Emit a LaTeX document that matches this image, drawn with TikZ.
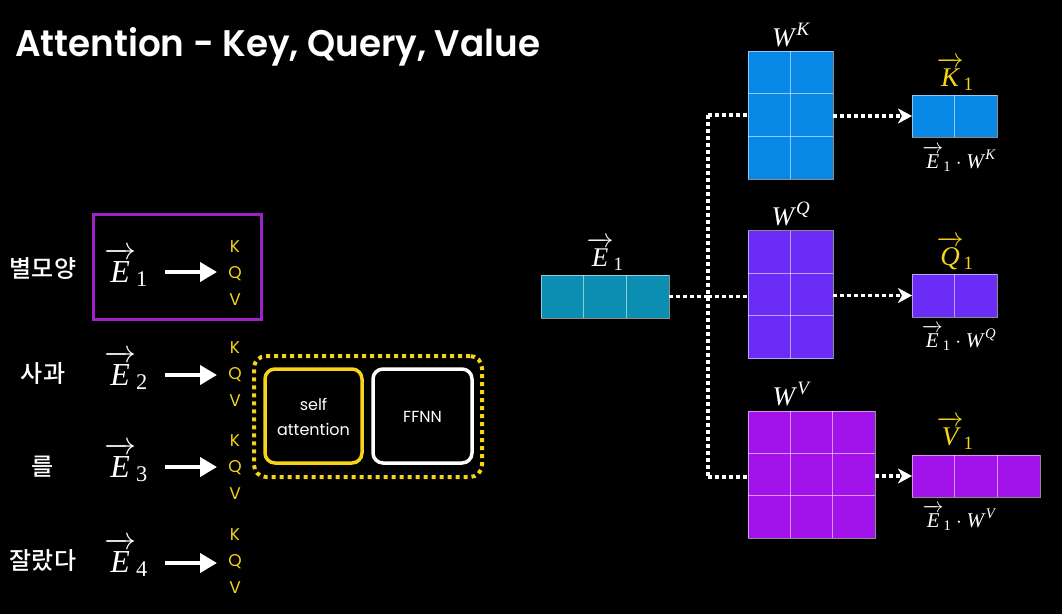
\RequirePackage{fix-cm}
\documentclass[tikz,border=0pt]{standalone}
\usepackage{amsmath}
\usepackage{fontspec}
\setsansfont{Poppins}
\newfontfamily\titlefont{Poppins}[UprightFont={* SemiBold}]
\newfontfamily\krfont{Noto Sans CJK KR}[UprightFont={* Medium}]
\newfontfamily\serifx{Liberation Serif}
\usepackage{graphicx}
\usetikzlibrary{arrows.meta,calc}
\definecolor{yel}{RGB}{245,212,25}
\definecolor{pbox}{RGB}{160,32,204}
\definecolor{ecol}{RGB}{12,142,178}
\definecolor{kcol}{RGB}{8,136,230}
\definecolor{qcol}{RGB}{106,44,246}
\definecolor{vcol}{RGB}{162,18,234}
\newcommand\vect[2]{$\overrightarrow{\rule{0pt}{0.7em}\text{\serifx\itshape #1}}_{\text{\serifx #2}}$}
\newcommand\matl[2]{$\text{\serifx\itshape #1\/}^{\text{\serifx\itshape #2}}$}
\newcommand\prodl[1]{$\overrightarrow{\rule{0pt}{0.7em}\text{\serifx\itshape E}}_{\text{\serifx 1}}\cdot\text{\serifx\itshape W\/}^{\text{\serifx\itshape #1}}$}
\newcommand\cellgrid[3]{%
  \pgfmathtruncatemacro\mycolsm{#2-1}%
  \pgfmathtruncatemacro\myrowsm{#3-1}%
  \ifnum\mycolsm>0
    \foreach \k in {1,...,\mycolsm}{\draw[gridl] ($(#1.north west)!\k/#2!(#1.north east)$) -- ($(#1.south west)!\k/#2!(#1.south east)$);}%
  \fi
  \ifnum\myrowsm>0
    \foreach \k in {1,...,\myrowsm}{\draw[gridl] ($(#1.north west)!\k/#3!(#1.south west)$) -- ($(#1.north east)!\k/#3!(#1.south east)$);}%
  \fi
}
\begin{document}
\begin{tikzpicture}[x=1pt,y=1pt,
  word/.style={text=white,font=\krfont\fontsize{24}{24}\selectfont,inner sep=0},
  evec/.style={text=white,font=\fontsize{32}{32}\selectfont,inner sep=0},
  kqv/.style={text=yel,font=\sffamily\fontsize{17}{26.5}\selectfont,align=center,inner sep=0},
  bigarrow/.style={draw=white,line width=4pt,-{Triangle[length=17pt,width=19pt]}},
  dotline/.style={draw=white,line width=3.5pt,dash pattern=on 3.5pt off 3.5pt},
  dotarrow/.style={dotline,-{Stealth[length=14pt,width=15pt,inset=4pt]}},
  mat/.style={draw=white,draw opacity=0.55,line width=1pt,inner sep=0,outer sep=0},
  gridl/.style={draw=white,draw opacity=0.55,line width=1pt},
  lab/.style={text=white,font=\fontsize{27}{27}\selectfont,inner sep=0},
  laby/.style={text=yel,font=\fontsize{27}{27}\selectfont,inner sep=0},
  prod/.style={text=white,font=\fontsize{21}{21}\selectfont,inner sep=0},
  smalltext/.style={text=white,font=\sffamily\fontsize{16}{25}\selectfont,align=center,inner sep=0},
]
\fill[black] (0,0) rectangle (1062,-614);
\useasboundingbox (0,0) rectangle (1062,-614);

% title
\node[anchor=base west,text=white,inner sep=0,font=\titlefont\fontsize{37}{37}\selectfont] (title) at (15,-56)
  {\resizebox{525pt}{\height}{Attention - Key, Query, Value}};

% left: words
\node[word] (w1) at (43,-268) {별모양};
\node[word] (w2) at (43,-374) {사과};
\node[word] (w3) at (43,-467) {를};
\node[word] (w4) at (43,-561) {잘랐다};

% embeddings
\node[evec,anchor=base west] (e1) at (104,-282) {\vect{E}{1}};
\node[evec,anchor=base west] (e2) at (104,-385) {\vect{E}{2}};
\node[evec,anchor=base west] (e3) at (104,-477) {\vect{E}{3}};
\node[evec,anchor=base west] (e4) at (104,-572) {\vect{E}{4}};

% K Q V
\node[kqv] (kqv1) at (235,-273) {K\\Q\\V};
\node[kqv] (kqv2) at (235,-374) {K\\Q\\V};
\node[kqv] (kqv3) at (235,-467) {K\\Q\\V};
\node[kqv] (kqv4) at (235,-561) {K\\Q\\V};

% arrows
\coordinate (a1) at (165,-272); \coordinate (b1) at (217,-272);
\coordinate (a2) at (165,-375); \coordinate (b2) at (217,-375);
\coordinate (a3) at (165,-467); \coordinate (b3) at (217,-467);
\coordinate (a4) at (165,-563); \coordinate (b4) at (217,-563);
\draw[bigarrow] (a1) -- (b1);
\draw[bigarrow] (a2) -- (b2);
\draw[bigarrow] (a3) -- (b3);
\draw[bigarrow] (a4) -- (b4);

% purple box
\node[draw=pbox,line width=3pt,minimum width=168pt,minimum height=105pt,inner sep=0] (hl) at (177,-266.5) {};

% encoder block
\node[draw=yel,line width=4pt,dash pattern=on 4pt off 4pt,rounded corners=12pt,minimum width=228pt,minimum height=121pt,inner sep=0] (enc) at (368,-416.5) {};
\node[draw=yel,line width=3.5pt,rounded corners=10pt,minimum width=97pt,minimum height=94pt,inner sep=0] (sa) at (313.5,-416) {};
\node[smalltext] (satext) at (313.5,-417) {self\\attention};
\node[draw=white,line width=3.5pt,rounded corners=10pt,minimum width=99pt,minimum height=94pt,inner sep=0] (ff) at (422.5,-416) {};
\node[smalltext] (fftext) at (422.5,-417) {FFNN};

% right: matrices
\node[mat,fill=ecol,minimum width=128pt,minimum height=43pt] (ev) at (605,-296.5) {};
\node[mat,fill=kcol,minimum width=85pt,minimum height=128pt] (wk) at (790.5,-115) {};
\node[mat,fill=qcol,minimum width=85pt,minimum height=128pt] (wq) at (790.5,-294.5) {};
\node[mat,fill=vcol,minimum width=127pt,minimum height=127pt] (wv) at (811.5,-474.5) {};
\node[mat,fill=kcol,minimum width=85pt,minimum height=42pt] (k1) at (954.5,-116) {};
\node[mat,fill=qcol,minimum width=85pt,minimum height=43pt] (q1) at (954.5,-295.5) {};
\node[mat,fill=vcol,minimum width=128pt,minimum height=42pt] (v1) at (976,-476) {};
\cellgrid{ev}{3}{1}
\cellgrid{wk}{2}{3}
\cellgrid{wq}{2}{3}
\cellgrid{wv}{3}{3}
\cellgrid{k1}{2}{1}
\cellgrid{q1}{2}{1}
\cellgrid{v1}{3}{1}

% labels
\node[lab,anchor=base] (evl) at (605,-266) {\vect{E}{1}};
\node[lab,anchor=base] (wkl) at (791,-46) {\matl{W}{K}};
\node[lab,anchor=base] (wql) at (791,-225) {\matl{W}{Q}};
\node[lab,anchor=base] (wvl) at (791,-405) {\matl{W}{V}};
\node[laby,anchor=base] (k1l) at (955,-86) {\vect{K}{1}};
\node[laby,anchor=base] (q1l) at (955,-265) {\vect{Q}{1}};
\node[laby,anchor=base] (v1l) at (955,-445) {\vect{V}{1}};
\node[prod,anchor=base] (k1p) at (959,-168) {\prodl{K}};
\node[prod,anchor=base] (q1p) at (959,-347) {\prodl{Q}};
\node[prod,anchor=base] (v1p) at (959,-527) {\prodl{V}};

% dotted connectors
\coordinate (split) at (708,-296.5);
\coordinate (sk) at (708,-115);
\coordinate (sv) at (708,-477);
\draw[dotline] (ev.east) -- (split);
\draw[dotline] (sk) -- (sv);
\draw[dotline] (sk) -- (sk -| wk.west);
\draw[dotline] (split) -- (split -| wq.west);
\draw[dotline] (sv) -- (sv -| wv.west);
\draw[dotarrow] (wk.east |- k1.west) -- (k1.west);
\draw[dotarrow] (wq.east |- q1.west) -- (q1.west);
\draw[dotarrow] (wv.east |- v1.west) -- (v1.west);
\end{tikzpicture}
\end{document}
